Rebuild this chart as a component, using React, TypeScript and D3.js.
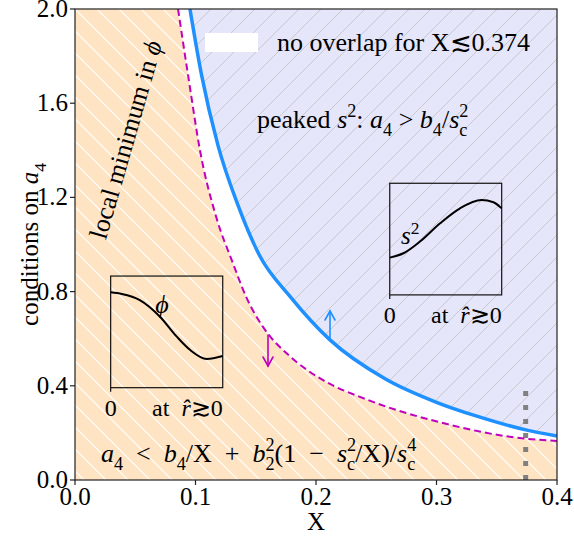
import React from 'react';
import * as d3 from 'd3';

const W = 574;
const H = 539;

// boundary curves: X vs condition on a4
const blueX = [0.0954, 0.105, 0.1187, 0.135, 0.1535, 0.1784, 0.2116, 0.2573, 0.3, 0.3328, 0.374, 0.4];
const blueA = [2.0, 1.72, 1.42, 1.17, 0.95, 0.78, 0.595, 0.43, 0.33, 0.272, 0.213, 0.187];
const magX = [0.0855, 0.095, 0.1037, 0.117, 0.1311, 0.1427, 0.156, 0.1784, 0.2055, 0.242, 0.3029, 0.3726, 0.4];
const magA = [2.0, 1.68, 1.4, 1.12, 0.92, 0.77, 0.65, 0.525, 0.425, 0.342, 0.245, 0.176, 0.166];

const xTicks = [0, 0.1, 0.2, 0.3, 0.4];
const yTicks = [0, 0.4, 0.8, 1.2, 1.6, 2.0];
const xOverlap = 0.374;
const dotA = [0, 0.4];

// inset sketches, as fractions of the inset box
const phiU = [0, 0.1, 0.26, 0.44, 0.59, 0.71, 0.857, 1];
const phiV = [0.854, 0.84, 0.785, 0.636, 0.457, 0.337, 0.257, 0.284];
const s2U = [0, 0.122, 0.27, 0.45, 0.628, 0.82, 0.926, 1];
const s2V = [0.334, 0.373, 0.478, 0.642, 0.776, 0.85, 0.83, 0.776];

const FONT = '"Liberation Serif", "DejaVu Serif", serif';
const ORANGE = '#ffe4c4';
const LAVENDER = '#e6e6fa';
const BLUE = '#1e90ff';
const MAGENTA = '#bf00bf';

type Part = { t: string; i?: boolean; p?: 'sub' | 'sup'; back?: number };

// small helper for the mathtext-like labels
const Rich = ({ x, y, parts, fs, anchor = 'start', transform, fill = '#000' }:
  { x: number; y: number; parts: Part[]; fs: number; anchor?: string; transform?: string; fill?: string }) => {
  let cur = 0;
  const spans = parts.map((pt, k) => {
    const target = pt.p === 'sub' ? 0.3 * fs : pt.p === 'sup' ? -0.42 * fs : 0;
    const dy = target - cur;
    cur = target;
    return (
      <tspan key={k} dy={dy} dx={pt.back ? -pt.back * fs : undefined}
        fontStyle={pt.i ? 'italic' : 'normal'} fontSize={pt.p ? fs * 0.7 : fs}>
        {pt.t}
      </tspan>
    );
  });
  return (
    <text x={x} y={y} fontSize={fs} textAnchor={anchor} transform={transform}
      fontFamily={FONT} fill={fill} style={{ whiteSpace: 'pre' }}>
      {spans}
    </text>
  );
};

const sc2: Part[] = [{ t: 's', i: true }, { t: '2', p: 'sup' }, { t: 'c', p: 'sub', back: 0.35 }];

const Inset = ({ box, u, v, x, y, label }:
  { box: number[]; u: number[]; v: number[]; x: any; y: any; label: React.ReactNode }) => {
  const sx = d3.scaleLinear().domain([0, 1]).range([x(box[0]), x(box[1])]);
  const sy = d3.scaleLinear().domain([0, 1]).range([y(box[2]), y(box[3])]);
  const line = d3.line<number>().x((d, i) => sx(u[i])).y(d => sy(d)).curve(d3.curveMonotoneX);
  return (
    <g>
      <rect x={sx(0)} y={sy(1)} width={sx(1) - sx(0)} height={sy(0) - sy(1)}
        fill="none" stroke="#111" strokeWidth={1.2} />
      <line x1={sx(0)} x2={sx(0)} y1={sy(0)} y2={sy(0) + 4} stroke="#111" strokeWidth={1.2} />
      <path d={line(v) || ''} fill="none" stroke="#000" strokeWidth={2} />
      <text x={sx(0)} y={sy(0) + 28} textAnchor="middle" fontFamily={FONT} fontSize={24}>0</text>
      <text x={sx(1)} y={sy(0) + 28} textAnchor="end" fontFamily={FONT} fontSize={24} style={{ whiteSpace: 'pre' }}>
        {'at  '}<tspan fontStyle="italic">{'r\u0302'}</tspan>{'\u2273'}0
      </text>
      {label}
    </g>
  );
};

const Arrow = ({ x0, y0, y1, color }: { x0: number; y0: number; y1: number; color: string }) => {
  const dir = y1 < y0 ? 1 : -1;
  return (
    <g stroke={color} strokeWidth={1.6} fill="none" strokeLinecap="round">
      <line x1={x0} x2={x0} y1={y0} y2={y1} />
      <path d={`M${x0 - 5},${y1 + dir * 9}L${x0},${y1}L${x0 + 5},${y1 + dir * 9}`} />
    </g>
  );
};

const App = () => {
  const left = 75, right = 557, top = 9, bottom = 480;
  const x = d3.scaleLinear().domain([0, 0.4]).range([left, right]);
  const y = d3.scaleLinear().domain([0, 2]).range([bottom, top]);

  const curve = (xs: number[]) => d3.line<number>()
    .x((d, i) => x(xs[i]))
    .y(d => y(d))
    .curve(d3.curveMonotoneX);

  const bluePath = curve(blueX)(blueA) || '';
  const magPath = curve(magX)(magA) || '';

  const orangeArea = `${magPath}L${x(0.4)},${y(0)}L${x(0)},${y(0)}L${x(0)},${y(2)}Z`;
  const lavenderArea = `${bluePath}L${x(0.4)},${y(2)}Z`;

  const phiBox = [0.0296, 0.1226, 0.392, 0.866];
  const s2Box = [0.2612, 0.3541, 0.786, 1.26];

  return (
    <svg width={W} height={H} style={{ position: 'absolute', left: 0, top: 0, background: '#fff' }}>
      <defs>
        <clipPath id="plot">
          <rect x={left} y={top} width={right - left} height={bottom - top} />
        </clipPath>
        <pattern id="hatchO" patternUnits="userSpaceOnUse" width={22} height={22}>
          <path d="M-1,-1L23,23M-12,10L12,34M10,-12L34,12" stroke="#fff" strokeWidth={1.1} />
        </pattern>
        <pattern id="hatchL" patternUnits="userSpaceOnUse" width={22} height={22}>
          <path d="M-1,23L23,-1M-12,12L12,-12M10,34L34,10" stroke="#c8c8cf" strokeWidth={1} />
        </pattern>
      </defs>

      <g clipPath="url(#plot)">
        <path d={orangeArea} fill={ORANGE} />
        <path d={orangeArea} fill="url(#hatchO)" />
        <path d={lavenderArea} fill={LAVENDER} />
        <path d={lavenderArea} fill="url(#hatchL)" />
        <line x1={x(xOverlap)} x2={x(xOverlap)} y1={y(dotA[0])} y2={y(dotA[1])}
          stroke="#808080" strokeWidth={5} strokeDasharray="5 9" />
        <path d={magPath} fill="none" stroke={MAGENTA} strokeWidth={2} strokeDasharray="7 4" />
        <path d={bluePath} fill="none" stroke={BLUE} strokeWidth={3.5} />
      </g>

      {/* legend */}
      <rect x={205} y={33} width={53} height={19} fill="#fff" />
      <text x={277} y={51} fontFamily={FONT} fontSize={26}>no overlap for X{'\u2272'}0.374</text>

      <Rich x={257} y={128} fs={26} parts={[
        { t: 'peaked ' }, { t: 's', i: true }, { t: '2', p: 'sup' }, { t: ': ' },
        { t: 'a', i: true }, { t: '4', p: 'sub' }, { t: ' > ' },
        { t: 'b', i: true }, { t: '4', p: 'sub' }, { t: '/' }, ...sc2,
      ]} />

      <Rich x={101} y={462} fs={26} parts={[
        { t: 'a', i: true }, { t: '4', p: 'sub' }, { t: '  <  ' },
        { t: 'b', i: true }, { t: '4', p: 'sub' }, { t: '/X  +  ' },
        { t: 'b', i: true }, { t: '2', p: 'sup' }, { t: '2', p: 'sub', back: 0.35 },
        { t: '(1  \u2212  ' }, ...sc2, { t: '/X)/' },
        { t: 's', i: true }, { t: '4', p: 'sup' }, { t: 'c', p: 'sub', back: 0.35 },
      ]} />

      <text transform="translate(134,142) rotate(-74)" textAnchor="middle" fontFamily={FONT} fontSize={26}>
        local minimum in <tspan fontStyle="italic">{'\u03d5'}</tspan>
      </text>

      <Arrow x0={330} y0={340} y1={311} color={BLUE} />
      <Arrow x0={268} y0={335} y1={366} color={MAGENTA} />

      <Inset box={phiBox} u={phiU} v={phiV} x={x} y={y}
        label={<text x={162} y={313} textAnchor="middle" fontFamily={FONT} fontSize={26} fontStyle="italic">{'\u03d5'}</text>} />
      <Inset box={s2Box} u={s2U} v={s2V} x={x} y={y}
        label={<Rich x={401} y={244} fs={25} parts={[{ t: 's', i: true }, { t: '2', p: 'sup' }]} />} />

      {/* frame */}
      <rect x={left} y={top} width={right - left} height={bottom - top} fill="none" stroke="#222" strokeWidth={1.2} />

      {xTicks.map(t => (
        <g key={t}>
          <line x1={x(t)} x2={x(t)} y1={bottom} y2={bottom + 5} stroke="#222" strokeWidth={1.2} />
          <text x={x(t)} y={bottom + 25} textAnchor="middle" fontFamily={FONT} fontSize={25}>{t.toFixed(1)}</text>
        </g>
      ))}
      {yTicks.map(t => (
        <g key={t}>
          <line x1={left - 5} x2={left} y1={y(t)} y2={y(t)} stroke="#222" strokeWidth={1.2} />
          <text x={left - 7} y={y(t) + 8} textAnchor="end" fontFamily={FONT} fontSize={25}>{t.toFixed(1)}</text>
        </g>
      ))}

      <text x={(left + right) / 2} y={530} textAnchor="middle" fontFamily={FONT} fontSize={25}>X</text>
      <Rich x={0} y={0} fs={25} anchor="middle" transform={`translate(38,${(top + bottom) / 2}) rotate(-90)`}
        parts={[{ t: 'conditions on ' }, { t: 'a', i: true }, { t: '4', p: 'sub' }]} />
    </svg>
  );
};

export default App;
